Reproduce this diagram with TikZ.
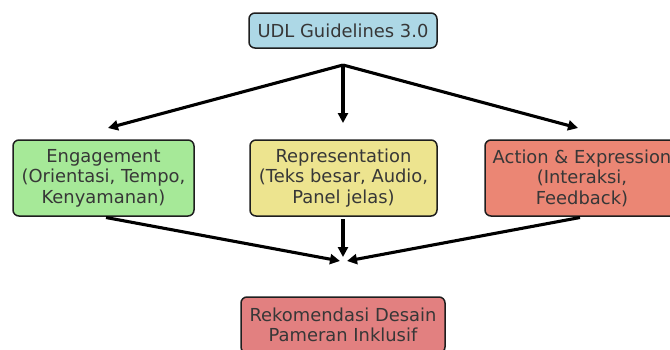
\documentclass[tikz,border=0pt]{standalone}
\usepackage{fontspec}
\setmainfont{DejaVu Sans}
\usetikzlibrary{arrows.meta}
\definecolor{txt}{RGB}{55,55,55}
\definecolor{cblue}{RGB}{173,216,230}
\definecolor{cgreen}{RGB}{166,233,152}
\definecolor{cyellow}{RGB}{237,228,143}
\definecolor{cred}{RGB}{235,134,116}
\definecolor{ccoral}{RGB}{226,128,128}
\definecolor{edge}{RGB}{30,30,30}
\tikzset{
  box/.style={draw=edge, line width=1.5pt, rounded corners=6pt, align=center,
    text=txt, inner sep=0pt, font=\fontsize{17.9}{20.5}\selectfont},
  arr/.style={-{Triangle[length=10pt,width=10pt]}, line width=3.1pt, black}
}
\begin{document}
\begin{tikzpicture}[x=1pt,y=-1pt]
\useasboundingbox (0,0) rectangle (670,349);
\clip (0,0) rectangle (670,349);
\node[box, fill=cblue, minimum width=188pt, minimum height=35pt] (udl) at (343,30.5) {UDL Guidelines 3.0};
\node[box, fill=cgreen, minimum width=181pt, minimum height=76pt] (eng) at (103.5,178) {Engagement\\(Orientasi, Tempo,\\Kenyamanan)};
\node[box, fill=cyellow, minimum width=187pt, minimum height=76pt] (rep) at (343.5,178) {Representation\\(Teks besar, Audio,\\Panel jelas)};
\node[box, fill=cred, minimum width=194pt, minimum height=76pt] (act) at (582,178) {Action \& Expression\\(Interaksi,\\Feedback)};
\node[box, fill=ccoral, minimum width=204pt, minimum height=56pt] (rek) at (343,325) {Rekomendasi Desain\\Pameran Inklusif};
\coordinate (tophub) at (343,65);
\coordinate (engin) at (108,128);
\coordinate (repin) at (343,123);
\coordinate (actin) at (578,128);
\coordinate (engout) at (106,217.5);
\coordinate (repout) at (343,219);
\coordinate (actout) at (580,217.5);
\coordinate (botL) at (340,261);
\coordinate (botM) at (343,257);
\coordinate (botR) at (347,261);
\draw[arr] (tophub) -- (engin);
\draw[arr] (tophub) -- (repin);
\draw[arr] (tophub) -- (actin);
\draw[arr] (engout) -- (botL);
\draw[arr] (repout) -- (botM);
\draw[arr] (actout) -- (botR);
\end{tikzpicture}
\end{document}
